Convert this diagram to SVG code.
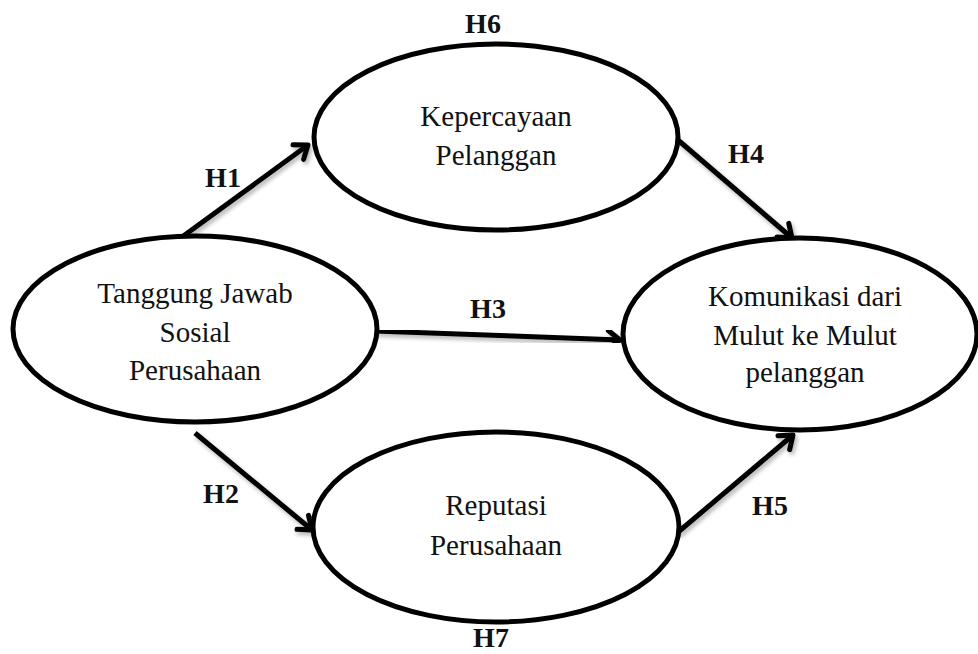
<svg xmlns="http://www.w3.org/2000/svg" width="978" height="654" viewBox="0 0 978 654">
<style>
.node ellipse{fill:#fff;stroke:#000;stroke-width:5}
.lbl{font-family:"Liberation Serif","Times New Roman",serif;font-size:29px;fill:#111;text-anchor:middle}
.h{font-family:"Liberation Serif","Times New Roman",serif;font-size:28px;font-weight:bold;fill:#111;text-anchor:middle}
.edge{stroke:#000;stroke-width:5;fill:none;marker-end:url(#arr);filter:url(#sh)}
</style>
<defs>
<marker id="arr" markerUnits="userSpaceOnUse" markerWidth="26" markerHeight="26" viewBox="0 0 26 26" refX="20" refY="13" orient="auto">
<path d="M8,4 L20,13 L8,22" fill="none" stroke="#000" stroke-width="5" stroke-linecap="round" stroke-linejoin="round"/>
</marker>
<filter id="sh" x="-10%" y="-10%" width="130%" height="140%">
<feGaussianBlur in="SourceAlpha" stdDeviation="2"/>
<feOffset dx="2" dy="3" result="b"/>
<feComponentTransfer><feFuncA type="linear" slope="0.3"/></feComponentTransfer>
<feMerge><feMergeNode/><feMergeNode in="SourceGraphic"/></feMerge>
</filter>
</defs>
<rect width="978" height="654" fill="#fff"/>
<g id="connectors">
<line class="edge" x1="182" y1="237" x2="308" y2="145"/>
<line class="edge" x1="678" y1="140" x2="792" y2="238"/>
<line class="edge" x1="375" y1="331" x2="620" y2="340"/>
<line class="edge" x1="195" y1="433" x2="312" y2="530"/>
<line class="edge" x1="677" y1="533" x2="793" y2="435"/>
</g>
<g id="tjsp" class="node">
<ellipse cx="195" cy="329" rx="182" ry="93"/>
<text class="lbl" x="195" y="303">Tanggung Jawab</text>
<text class="lbl" x="195" y="342">Sosial</text>
<text class="lbl" x="195" y="380">Perusahaan</text>
</g>
<g id="kp" class="node">
<ellipse cx="496" cy="137" rx="182" ry="93"/>
<text class="lbl" x="496" y="126">Kepercayaan</text>
<text class="lbl" x="496" y="165">Pelanggan</text>
</g>
<g id="wom" class="node">
<ellipse cx="800" cy="334" rx="177" ry="96"/>
<text class="lbl" x="805" y="306">Komunikasi dari</text>
<text class="lbl" x="805" y="345">Mulut ke Mulut</text>
<text class="lbl" x="805" y="382">pelanggan</text>
</g>
<g id="rp" class="node">
<ellipse cx="496" cy="527" rx="183" ry="95"/>
<text class="lbl" x="496" y="515">Reputasi</text>
<text class="lbl" x="496" y="555">Perusahaan</text>
</g>
<g id="labels">
<text class="h" x="223" y="187">H1</text>
<text class="h" x="221" y="503">H2</text>
<text class="h" x="488" y="318">H3</text>
<text class="h" x="746" y="163">H4</text>
<text class="h" x="770" y="515">H5</text>
<text class="h" x="483" y="33">H6</text>
<text class="h" x="491" y="647">H7</text>
</g>
</svg>
